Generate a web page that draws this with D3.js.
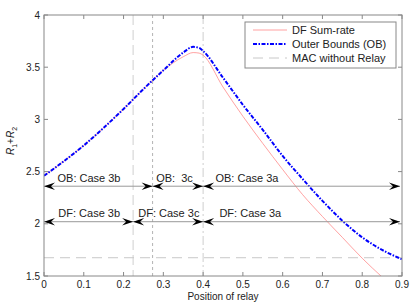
<!DOCTYPE html>
<html><head><meta charset="utf-8">
<script src="https://cdn.jsdelivr.net/npm/d3@7"></script>
<style>body{margin:0;background:#fff}svg{display:block;font-family:"Liberation Sans",Arial,sans-serif}</style>
</head><body><svg id="c" width="417" height="306"></svg>
<script>
// ---- data ----
const xPos   = [0,0.05,0.1,0.15,0.2,0.25,0.3,0.35,0.375,0.39,0.4,0.45,0.5,0.55,0.6,0.65,0.7,0.75,0.8,0.85,0.9];
const obRate = [2.46,2.60,2.75,2.92,3.10,3.29,3.47,3.64,3.695,3.685,3.655,3.40,3.14,2.90,2.65,2.43,2.22,2.03,1.87,1.75,1.66];
const dfRate = [2.46,2.60,2.75,2.92,3.10,3.29,3.47,3.60,3.64,3.635,3.615,3.31,3.03,2.77,2.52,2.28,2.07,1.87,1.67,1.49,1.32];
const macRate = 1.675;
const xTicks = [0,0.1,0.2,0.3,0.4,0.5,0.6,0.7,0.8,0.9];
const yTicks = [1.5,2,2.5,3,3.5,4];
const caseBounds = [0.224, 0.273, 0.4];
const obRow = {y: 2.36, stops: [0, 0.273, 0.4, 0.895], labels: ["OB: Case 3b","OB:  3c","OB: Case 3a"], labelX: [0.034,0.282,0.431]};
const dfRow = {y: 2.02, stops: [0, 0.224, 0.4, 0.895], labels: ["DF: Case 3b","DF: Case 3c","DF: Case 3a"], labelX: [0.036,0.237,0.441]};
const legendItems = ["DF Sum-rate","Outer Bounds (OB)","MAC without Relay"];

// ---- layout ----
const W=417,H=306, m={l:44,t:15,r:15,b:30};
const svg=d3.select("#c");
const x=d3.scaleLinear().domain([0,0.9]).range([m.l,W-m.r]);
const y=d3.scaleLinear().domain([1.5,4]).range([H-m.b,m.t]);
const axisCol="#888", txtCol="#222", dfCol="#ff7a7a";

svg.append("defs").append("clipPath").attr("id","clip").append("rect")
  .attr("x",m.l).attr("y",m.t).attr("width",x(0.9)-m.l).attr("height",y(1.5)-m.t);

// vertical case boundaries
const vStyles=[{c:"#cfcfcf",d:"10,5"},{c:"#b4b4b4",d:"3,3"},{c:"#cfcfcf",d:"9,3,2,3"}];
caseBounds.forEach((b,i)=>{
  svg.append("line").attr("x1",x(b)).attr("x2",x(b)).attr("y1",y(4)).attr("y2",y(1.5))
    .attr("stroke",vStyles[i].c).attr("stroke-width",1).attr("stroke-dasharray",vStyles[i].d);
});

// MAC line
svg.append("line").attr("x1",x(0)).attr("x2",x(0.9)).attr("y1",y(macRate)).attr("y2",y(macRate))
  .attr("stroke","#c8c8c8").attr("stroke-width",1).attr("stroke-dasharray","10,6");

// curves
const line=d3.line().x((d,i)=>x(xPos[i])).y(d=>y(d)).curve(d3.curveMonotoneX);
const g=svg.append("g").attr("clip-path","url(#clip)");
g.append("path").attr("d",line(dfRate)).attr("fill","none").attr("stroke",dfCol).attr("stroke-width",0.7);
g.append("path").attr("d",line(obRate)).attr("fill","none").attr("stroke","#0000ff").attr("stroke-width",2)
  .attr("stroke-dasharray","4,1.5,1.5,1.5");

// arrows
function head(px,py,dir){ // dir=1 points right, -1 left
  const L=11,Wd=3.8,N=7;
  const p=[[px,py],[px-dir*L,py-Wd],[px-dir*N,py],[px-dir*L,py+Wd]];
  svg.append("path").attr("d","M"+p.join("L")+"Z").attr("fill","#000");
}
[obRow,dfRow].forEach(row=>{
  const py=y(row.y);
  svg.append("line").attr("x1",x(row.stops[0])).attr("x2",x(row.stops[row.stops.length-1]))
    .attr("y1",py).attr("y2",py).attr("stroke","#999").attr("stroke-width",1);
  for(let i=0;i<row.stops.length-1;i++){
    head(x(row.stops[i]),py,-1);
    head(x(row.stops[i+1]),py,1);
    svg.append("text").attr("x",x(row.labelX[i])).attr("y",py-4.5).attr("font-size",11)
      .attr("fill",txtCol).attr("xml:space","preserve").style("white-space","pre").text(row.labels[i]);
  }
});

// axes box
const ax=svg.append("g").attr("stroke",axisCol).attr("stroke-width",1).attr("fill","none");
ax.append("rect").attr("x",x(0)).attr("y",y(4)).attr("width",x(0.9)-x(0)).attr("height",y(1.5)-y(4));
xTicks.forEach(t=>{
  ax.append("line").attr("x1",x(t)).attr("x2",x(t)).attr("y1",y(1.5)).attr("y2",y(1.5)-4);
  ax.append("line").attr("x1",x(t)).attr("x2",x(t)).attr("y1",y(4)).attr("y2",y(4)+4);
  svg.append("text").attr("x",x(t)).attr("y",y(1.5)+12).attr("text-anchor","middle")
    .attr("font-size",10).attr("fill",txtCol).text(d3.format("")(t));
});
yTicks.forEach(t=>{
  ax.append("line").attr("x1",x(0)).attr("x2",x(0)+4).attr("y1",y(t)).attr("y2",y(t));
  ax.append("line").attr("x1",x(0.9)).attr("x2",x(0.9)-4).attr("y1",y(t)).attr("y2",y(t));
  svg.append("text").attr("x",x(0)-4).attr("y",y(t)+3.5).attr("text-anchor","end")
    .attr("font-size",10).attr("fill",txtCol).text(t);
});

// axis labels
svg.append("text").attr("x",(x(0)+x(0.9))/2).attr("y",H-6).attr("text-anchor","middle")
  .attr("font-size",10).attr("fill",txtCol).text("Position of relay");
const yl=svg.append("text").attr("transform","translate(14,141) rotate(-90)").attr("text-anchor","middle")
  .attr("font-size",10).attr("fill",txtCol);
yl.append("tspan").attr("font-style","italic").text("R");
yl.append("tspan").attr("font-size",7).attr("dy",2.5).text("1");
yl.append("tspan").attr("dy",-2.5).text("+");
yl.append("tspan").attr("font-style","italic").text("R");
yl.append("tspan").attr("font-size",7).attr("dy",2.5).text("2");

// legend
const lg=svg.append("g");
lg.append("rect").attr("x",245).attr("y",22).attr("width",151).attr("height",46)
  .attr("fill","#fff").attr("stroke",axisCol).attr("stroke-width",1);
const lStyles=[{c:dfCol,w:0.7,d:null},{c:"#0000ff",w:2,d:"4,1.5,1.5,1.5"},{c:"#c8c8c8",w:1,d:"10,6"}];
legendItems.forEach((t,i)=>{
  const ly=30+i*14;
  lg.append("line").attr("x1",253).attr("x2",287).attr("y1",ly).attr("y2",ly)
    .attr("stroke",lStyles[i].c).attr("stroke-width",lStyles[i].w).attr("stroke-dasharray",lStyles[i].d);
  lg.append("text").attr("x",292).attr("y",ly+4).attr("font-size",11).attr("fill",txtCol).text(t);
});
</script></body></html>
